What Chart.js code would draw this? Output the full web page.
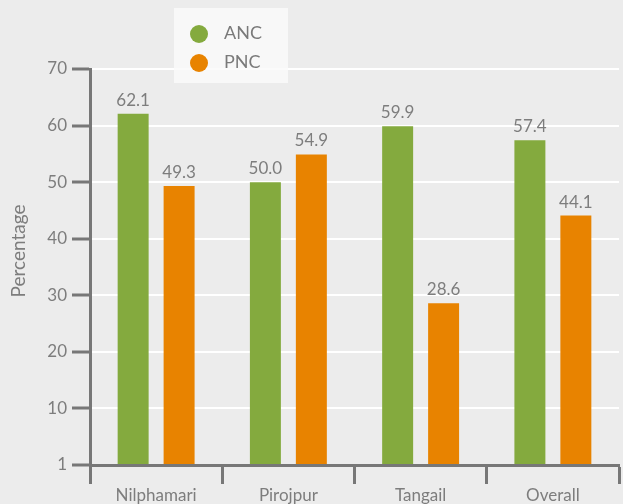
<!DOCTYPE html>
<html>
<head>
<meta charset="utf-8">
<script src="https://cdn.jsdelivr.net/npm/chart.js@4/dist/chart.umd.min.js"></script>
<style>
  html, body { margin: 0; padding: 0; background: #ececec; }
  #wrap { position: relative; width: 623px; height: 504px; }
  canvas { position: absolute; left: 0; top: 0; }
  #legend { position: absolute; left: 174px; top: 8px; width: 114px; height: 75px;
    background: rgba(250,250,250,0.85); font-family: Lato, "Open Sans", sans-serif; font-size: 18px; color: #7a7a7a; }
  .li { position: absolute; left: 16px; height: 20px; line-height: 20px; }
  .dot { display: inline-block; width: 18px; height: 18px; border-radius: 50%; vertical-align: middle; margin-right: 16px; }
</style>
</head>
<body>
<div id="wrap">
  <canvas id="c" width="623" height="504"></canvas>
  <div id="legend"></div>
</div>
<script>
const categories = ["Nilphamari", "Pirojpur", "Tangail", "Overall"];
const ancValues = [62.1, 50.0, 59.9, 57.4];
const pncValues = [49.3, 54.9, 28.6, 44.1];
const yTickLabels = ["1", "10", "20", "30", "40", "50", "60", "70"];
const seriesNames = ["ANC", "PNC"];
const seriesColors = ["#84aa3e", "#e88300"];
const yTitle = "Percentage";

const FONT = 'Lato, "Open Sans", sans-serif';
const GRAY = '#7d7d7d';
const AXIS = '#777777';

// legend
const lg = document.getElementById('legend');
seriesNames.forEach((n, i) => {
  const d = document.createElement('div');
  d.className = 'li';
  d.style.top = (14 + i * 29) + 'px';
  d.innerHTML = '<span class="dot" style="background:' + seriesColors[i] + '"></span>' + n;
  lg.appendChild(d);
});

const valueLabels = {
  id: 'valueLabels',
  afterDatasetsDraw(chart) {
    const ctx = chart.ctx;
    ctx.save();
    ctx.font = '17px ' + FONT;
    ctx.fillStyle = GRAY;
    ctx.textAlign = 'center';
    ctx.textBaseline = 'bottom';
    chart.data.datasets.forEach((ds, di) => {
      chart.getDatasetMeta(di).data.forEach((el, i) => {
        ctx.fillText(ds.data[i].toFixed(1), el.x, el.y - 5);
      });
    });
    // y axis title
    const ca = chart.chartArea;
    ctx.translate(19, (ca.top + ca.bottom) / 2 - 16);
    ctx.rotate(-Math.PI / 2);
    ctx.font = '19px ' + FONT;
    ctx.textBaseline = 'middle';
    ctx.fillText(yTitle, 0, 0);
    ctx.restore();
  }
};

new Chart(document.getElementById('c'), {
  type: 'bar',
  data: {
    labels: categories,
    datasets: [
      { label: seriesNames[0], data: ancValues, backgroundColor: seriesColors[0] },
      { label: seriesNames[1], data: pncValues, backgroundColor: seriesColors[1] }
    ]
  },
  options: {
    responsive: false,
    animation: false,
    layout: { padding: { top: 69, right: 4, left: 0, bottom: 0 } },
    datasets: { bar: { categoryPercentage: 0.695, barPercentage: 0.674 } },
    plugins: { legend: { display: false }, tooltip: { enabled: false } },
    scales: {
      x: {
        offset: true,
        grid: { offset: true, drawOnChartArea: false, drawTicks: true, tickLength: 19, tickColor: AXIS, tickWidth: 3 },
        border: { display: true, color: AXIS, width: 3 },
        ticks: { color: GRAY, font: { family: FONT, size: 17 }, padding: 1 },
        afterFit(s) { s.height = 39; }
      },
      y: {
        min: 0, max: 70,
        ticks: {
          stepSize: 10, color: GRAY, font: { family: FONT, size: 17 }, padding: 5,
          callback: (v) => yTickLabels[Math.round(v / 10)]
        },
        grid: { color: '#ffffff', lineWidth: 2, tickColor: AXIS, tickLength: 18, tickWidth: 3 },
        border: { display: true, color: AXIS, width: 3 },
        afterFit(s) { s.width = 90; }
      }
    }
  },
  plugins: [valueLabels]
});
</script>
</body>
</html>
